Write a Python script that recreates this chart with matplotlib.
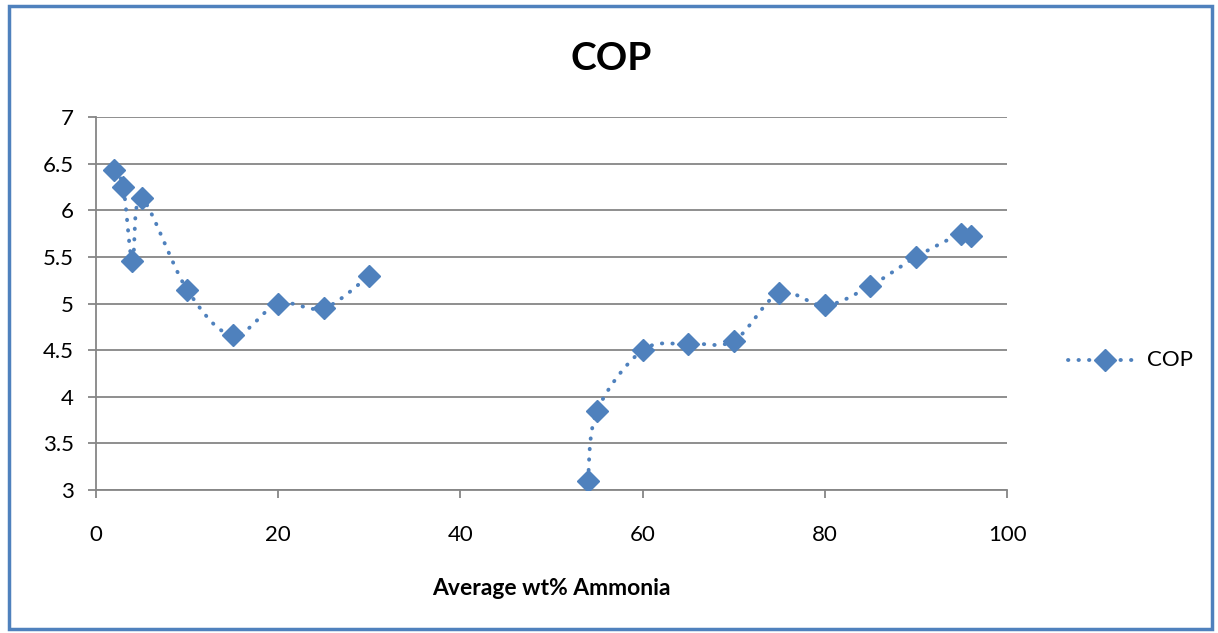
import numpy as np
import matplotlib.pyplot as plt
from matplotlib.patches import Rectangle

# data (NaN = gap in the series)
wt = np.array([2, 3, 4, 5, 10, 15, 20, 25, 30, np.nan,
               54, 55, 60, 65, 70, 75, 80, 85, 90, 95, 96])
cop = np.array([6.43, 6.25, 5.46, 6.13, 5.15, 4.66, 5.00, 4.95, 5.30, np.nan,
                3.10, 3.85, 4.50, 4.57, 4.60, 5.11, 4.98, 5.19, 5.50, 5.75, 5.72])

blue = '#4F81BD'
grey = '#868686'
plt.rcParams['font.family'] = ['Lato', 'DejaVu Sans']
dots = (0, (0.1, 2.6))


def smooth(xs, ys, n=20):
    # Excel-like smoothed line (Catmull-Rom style bezier)
    px = np.concatenate([[xs[0]], xs, [xs[-1]]])
    py = np.concatenate([[ys[0]], ys, [ys[-1]]])
    t = np.linspace(0, 1, n)[:, None]
    outx, outy = [], []
    for i in range(1, len(px) - 2):
        p0 = np.array([px[i], py[i]])
        p3 = np.array([px[i + 1], py[i + 1]])
        c1 = p0 + (p3 - np.array([px[i - 1], py[i - 1]])) / 6
        c2 = p3 - (np.array([px[i + 2], py[i + 2]]) - p0) / 6
        b = ((1 - t) ** 3) * p0 + 3 * ((1 - t) ** 2) * t * c1 + 3 * (1 - t) * t ** 2 * c2 + t ** 3 * p3
        outx.extend(b[:, 0])
        outy.extend(b[:, 1])
    return np.array(outx), np.array(outy)


fig = plt.figure(figsize=(12.18, 6.33), dpi=100)
ax = fig.add_axes([0.0788, 0.2259, 0.748, 0.589])

# split into segments at the gaps
breaks = np.where(np.isnan(wt))[0]
starts = np.concatenate([[0], breaks + 1])
ends = np.concatenate([breaks, [len(wt)]])
for s, e in zip(starts, ends):
    sx, sy = smooth(wt[s:e], cop[s:e])
    ax.plot(sx, sy, color=blue, lw=2.8, linestyle=dots,
            dash_capstyle='round', zorder=3)

ax.plot(wt, cop, linestyle='none', marker='D', markersize=11.5,
        color=blue, zorder=4)

ax.set_xlim(0, 100)
ax.set_ylim(3, 7)
ax.set_xticks([0, 20, 40, 60, 80, 100])
ax.set_yticks([3, 3.5, 4, 4.5, 5, 5.5, 6, 6.5, 7])
ax.set_yticklabels(['3', '3.5', '4', '4.5', '5', '5.5', '6', '6.5', '7'])
ax.tick_params(labelsize=16, color=grey, length=6, width=1.3)
ax.tick_params(axis='x', pad=19)
ax.tick_params(axis='y', pad=10)
ax.grid(axis='y', color=grey, lw=1.3)
ax.set_axisbelow(True)
for side in ['top', 'right']:
    ax.spines[side].set_visible(False)
for side in ['left', 'bottom']:
    ax.spines[side].set_color(grey)
    ax.spines[side].set_linewidth(1.3)

ax.set_xlabel('Average wt% Ammonia', fontsize=16.5, fontweight='bold', labelpad=24)
fig.text(0.502, 0.908, 'COP', fontsize=28, fontweight='bold', ha='center', va='center')

# legend
ly = 0.431
fig.lines.append(plt.Line2D([1068 / 1218, 1137 / 1218], [ly, ly], transform=fig.transFigure,
                            color=blue, lw=2.8, linestyle=dots, dash_capstyle='round'))
fig.lines.append(plt.Line2D([1105 / 1218], [ly], transform=fig.transFigure,
                            color=blue, marker='D', markersize=11.5, linestyle='none'))
fig.text(1147 / 1218, ly, 'COP', fontsize=16, va='center', ha='left')

# blue chart border
fig.patches.append(Rectangle((0.007, 0.006), 0.988, 0.985, transform=fig.transFigure,
                             fill=False, edgecolor=blue, lw=2.5))

fig.savefig('out.png', dpi=100)
